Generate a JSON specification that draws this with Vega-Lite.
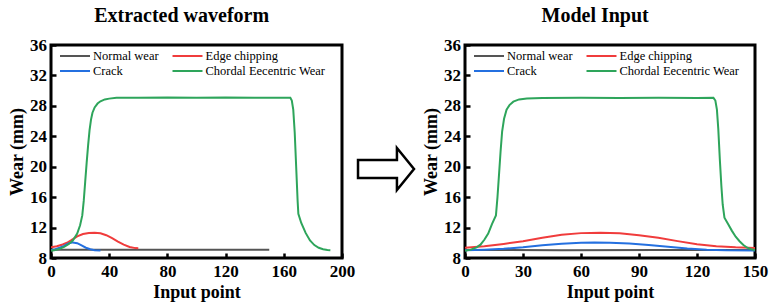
{
  "$schema": "https://vega.github.io/schema/vega-lite/v6.json",
  "padding": {"left": 7, "top": 4, "right": 0, "bottom": 0},
  "spacing": -8,
  "resolve": {"scale": {"color": "independent"}, "legend": {"color": "independent"}},
  "datasets": {
    "left": [
      {"x": 0, "y": 9.1, "s": "Normal wear"},
      {"x": 30, "y": 9.1, "s": "Normal wear"},
      {"x": 60, "y": 9.1, "s": "Normal wear"},
      {"x": 90, "y": 9.1, "s": "Normal wear"},
      {"x": 120, "y": 9.1, "s": "Normal wear"},
      {"x": 150, "y": 9.1, "s": "Normal wear"},
      {"x": 0, "y": 9.42, "s": "Edge chipping"},
      {"x": 4, "y": 9.55, "s": "Edge chipping"},
      {"x": 8, "y": 9.78, "s": "Edge chipping"},
      {"x": 11, "y": 10.0, "s": "Edge chipping"},
      {"x": 14, "y": 10.35, "s": "Edge chipping"},
      {"x": 18, "y": 10.85, "s": "Edge chipping"},
      {"x": 22, "y": 11.15, "s": "Edge chipping"},
      {"x": 26, "y": 11.3, "s": "Edge chipping"},
      {"x": 30, "y": 11.33, "s": "Edge chipping"},
      {"x": 34, "y": 11.25, "s": "Edge chipping"},
      {"x": 38, "y": 11.0, "s": "Edge chipping"},
      {"x": 42, "y": 10.6, "s": "Edge chipping"},
      {"x": 46, "y": 10.15, "s": "Edge chipping"},
      {"x": 50, "y": 9.75, "s": "Edge chipping"},
      {"x": 54, "y": 9.45, "s": "Edge chipping"},
      {"x": 58, "y": 9.3, "s": "Edge chipping"},
      {"x": 60, "y": 9.28, "s": "Edge chipping"},
      {"x": 0, "y": 9.02, "s": "Crack"},
      {"x": 3, "y": 9.15, "s": "Crack"},
      {"x": 6, "y": 9.35, "s": "Crack"},
      {"x": 9, "y": 9.6, "s": "Crack"},
      {"x": 12, "y": 9.9, "s": "Crack"},
      {"x": 15, "y": 10.05, "s": "Crack"},
      {"x": 18, "y": 9.95, "s": "Crack"},
      {"x": 21, "y": 9.65, "s": "Crack"},
      {"x": 24, "y": 9.35, "s": "Crack"},
      {"x": 27, "y": 9.15, "s": "Crack"},
      {"x": 30, "y": 9.03, "s": "Crack"},
      {"x": 34, "y": 8.97, "s": "Crack"},
      {"x": 0, "y": 8.95, "s": "Chordal Eecentric Wear"},
      {"x": 3, "y": 9.05, "s": "Chordal Eecentric Wear"},
      {"x": 6, "y": 9.2, "s": "Chordal Eecentric Wear"},
      {"x": 9, "y": 9.45, "s": "Chordal Eecentric Wear"},
      {"x": 12, "y": 9.8, "s": "Chordal Eecentric Wear"},
      {"x": 15, "y": 10.3, "s": "Chordal Eecentric Wear"},
      {"x": 18, "y": 11.2, "s": "Chordal Eecentric Wear"},
      {"x": 20, "y": 12.3, "s": "Chordal Eecentric Wear"},
      {"x": 21.5, "y": 13.6, "s": "Chordal Eecentric Wear"},
      {"x": 22.5, "y": 15.5, "s": "Chordal Eecentric Wear"},
      {"x": 23.5, "y": 18.0, "s": "Chordal Eecentric Wear"},
      {"x": 24.5, "y": 20.5, "s": "Chordal Eecentric Wear"},
      {"x": 25.5, "y": 22.8, "s": "Chordal Eecentric Wear"},
      {"x": 26.5, "y": 24.8, "s": "Chordal Eecentric Wear"},
      {"x": 27.5, "y": 26.2, "s": "Chordal Eecentric Wear"},
      {"x": 28.5, "y": 27.1, "s": "Chordal Eecentric Wear"},
      {"x": 30, "y": 27.8, "s": "Chordal Eecentric Wear"},
      {"x": 32, "y": 28.3, "s": "Chordal Eecentric Wear"},
      {"x": 34, "y": 28.6, "s": "Chordal Eecentric Wear"},
      {"x": 37, "y": 28.85, "s": "Chordal Eecentric Wear"},
      {"x": 40, "y": 28.95, "s": "Chordal Eecentric Wear"},
      {"x": 45, "y": 29.05, "s": "Chordal Eecentric Wear"},
      {"x": 60, "y": 29.05, "s": "Chordal Eecentric Wear"},
      {"x": 80, "y": 29.1, "s": "Chordal Eecentric Wear"},
      {"x": 100, "y": 29.05, "s": "Chordal Eecentric Wear"},
      {"x": 120, "y": 29.1, "s": "Chordal Eecentric Wear"},
      {"x": 140, "y": 29.05, "s": "Chordal Eecentric Wear"},
      {"x": 160, "y": 29.05, "s": "Chordal Eecentric Wear"},
      {"x": 164.5, "y": 29.05, "s": "Chordal Eecentric Wear"},
      {"x": 165.5, "y": 28.7, "s": "Chordal Eecentric Wear"},
      {"x": 166.5, "y": 27.5, "s": "Chordal Eecentric Wear"},
      {"x": 167.5, "y": 24.5, "s": "Chordal Eecentric Wear"},
      {"x": 168.5, "y": 20.0, "s": "Chordal Eecentric Wear"},
      {"x": 169.5, "y": 15.5, "s": "Chordal Eecentric Wear"},
      {"x": 170, "y": 13.8, "s": "Chordal Eecentric Wear"},
      {"x": 172, "y": 12.6, "s": "Chordal Eecentric Wear"},
      {"x": 175, "y": 11.3, "s": "Chordal Eecentric Wear"},
      {"x": 178, "y": 10.3, "s": "Chordal Eecentric Wear"},
      {"x": 181, "y": 9.7, "s": "Chordal Eecentric Wear"},
      {"x": 184, "y": 9.35, "s": "Chordal Eecentric Wear"},
      {"x": 187, "y": 9.15, "s": "Chordal Eecentric Wear"},
      {"x": 190, "y": 9.05, "s": "Chordal Eecentric Wear"},
      {"x": 192, "y": 9.02, "s": "Chordal Eecentric Wear"}
    ],
    "right": [
      {"x": 0, "y": 9.05, "s": "Normal wear"},
      {"x": 50, "y": 9.03, "s": "Normal wear"},
      {"x": 100, "y": 9.05, "s": "Normal wear"},
      {"x": 150, "y": 9.04, "s": "Normal wear"},
      {"x": 0, "y": 9.35, "s": "Edge chipping"},
      {"x": 10, "y": 9.55, "s": "Edge chipping"},
      {"x": 20, "y": 9.85, "s": "Edge chipping"},
      {"x": 30, "y": 10.2, "s": "Edge chipping"},
      {"x": 40, "y": 10.65, "s": "Edge chipping"},
      {"x": 50, "y": 11.05, "s": "Edge chipping"},
      {"x": 60, "y": 11.27, "s": "Edge chipping"},
      {"x": 70, "y": 11.33, "s": "Edge chipping"},
      {"x": 80, "y": 11.25, "s": "Edge chipping"},
      {"x": 90, "y": 11.0, "s": "Edge chipping"},
      {"x": 100, "y": 10.65, "s": "Edge chipping"},
      {"x": 110, "y": 10.22, "s": "Edge chipping"},
      {"x": 120, "y": 9.82, "s": "Edge chipping"},
      {"x": 130, "y": 9.55, "s": "Edge chipping"},
      {"x": 140, "y": 9.4, "s": "Edge chipping"},
      {"x": 150, "y": 9.33, "s": "Edge chipping"},
      {"x": 0, "y": 9.02, "s": "Crack"},
      {"x": 10, "y": 9.1, "s": "Crack"},
      {"x": 20, "y": 9.22, "s": "Crack"},
      {"x": 30, "y": 9.42, "s": "Crack"},
      {"x": 40, "y": 9.68, "s": "Crack"},
      {"x": 50, "y": 9.88, "s": "Crack"},
      {"x": 60, "y": 10.0, "s": "Crack"},
      {"x": 67, "y": 10.05, "s": "Crack"},
      {"x": 75, "y": 10.02, "s": "Crack"},
      {"x": 85, "y": 9.92, "s": "Crack"},
      {"x": 95, "y": 9.72, "s": "Crack"},
      {"x": 105, "y": 9.48, "s": "Crack"},
      {"x": 115, "y": 9.25, "s": "Crack"},
      {"x": 125, "y": 9.1, "s": "Crack"},
      {"x": 135, "y": 9.02, "s": "Crack"},
      {"x": 150, "y": 9.0, "s": "Crack"},
      {"x": 0, "y": 8.95, "s": "Chordal Eecentric Wear"},
      {"x": 3, "y": 9.1, "s": "Chordal Eecentric Wear"},
      {"x": 6, "y": 9.4, "s": "Chordal Eecentric Wear"},
      {"x": 8, "y": 9.75, "s": "Chordal Eecentric Wear"},
      {"x": 10, "y": 10.4, "s": "Chordal Eecentric Wear"},
      {"x": 12, "y": 11.2, "s": "Chordal Eecentric Wear"},
      {"x": 14, "y": 12.5, "s": "Chordal Eecentric Wear"},
      {"x": 16, "y": 13.6, "s": "Chordal Eecentric Wear"},
      {"x": 16.8, "y": 16.0, "s": "Chordal Eecentric Wear"},
      {"x": 17.6, "y": 19.0, "s": "Chordal Eecentric Wear"},
      {"x": 18.4, "y": 22.0, "s": "Chordal Eecentric Wear"},
      {"x": 19.2, "y": 24.6, "s": "Chordal Eecentric Wear"},
      {"x": 20.2, "y": 26.3, "s": "Chordal Eecentric Wear"},
      {"x": 21.5, "y": 27.5, "s": "Chordal Eecentric Wear"},
      {"x": 23, "y": 28.1, "s": "Chordal Eecentric Wear"},
      {"x": 25, "y": 28.55, "s": "Chordal Eecentric Wear"},
      {"x": 28, "y": 28.85, "s": "Chordal Eecentric Wear"},
      {"x": 32, "y": 28.98, "s": "Chordal Eecentric Wear"},
      {"x": 40, "y": 29.02, "s": "Chordal Eecentric Wear"},
      {"x": 60, "y": 29.05, "s": "Chordal Eecentric Wear"},
      {"x": 80, "y": 29.02, "s": "Chordal Eecentric Wear"},
      {"x": 100, "y": 29.05, "s": "Chordal Eecentric Wear"},
      {"x": 120, "y": 29.02, "s": "Chordal Eecentric Wear"},
      {"x": 128.5, "y": 29.05, "s": "Chordal Eecentric Wear"},
      {"x": 129.5, "y": 28.7, "s": "Chordal Eecentric Wear"},
      {"x": 130.3, "y": 27.5, "s": "Chordal Eecentric Wear"},
      {"x": 131, "y": 25.0, "s": "Chordal Eecentric Wear"},
      {"x": 131.8, "y": 21.0, "s": "Chordal Eecentric Wear"},
      {"x": 132.6, "y": 17.5, "s": "Chordal Eecentric Wear"},
      {"x": 133.3, "y": 15.0, "s": "Chordal Eecentric Wear"},
      {"x": 134.2, "y": 13.3, "s": "Chordal Eecentric Wear"},
      {"x": 136, "y": 12.5, "s": "Chordal Eecentric Wear"},
      {"x": 138, "y": 11.6, "s": "Chordal Eecentric Wear"},
      {"x": 140, "y": 10.8, "s": "Chordal Eecentric Wear"},
      {"x": 142, "y": 10.2, "s": "Chordal Eecentric Wear"},
      {"x": 144, "y": 9.7, "s": "Chordal Eecentric Wear"},
      {"x": 146, "y": 9.35, "s": "Chordal Eecentric Wear"},
      {"x": 148, "y": 9.15, "s": "Chordal Eecentric Wear"},
      {"x": 150, "y": 9.05, "s": "Chordal Eecentric Wear"}
    ],
    "arrow": [{"ax": 0.403, "ay": 0.418}]
  },
  "hconcat": [
    {
      "title": {"text": "Extracted waveform", "offset": 10},
      "width": 291,
      "height": 213,
      "data": {"name": "left"},
      "mark": {"type": "line", "strokeWidth": 2, "clip": true},
      "encoding": {
        "x": {"field": "x", "type": "quantitative", "title": "Input point",
              "scale": {"domain": [0, 200], "nice": false, "zero": false},
              "axis": {"values": [0, 40, 80, 120, 160, 200], "labelFlush": false, "labelFont": "Liberation Serif", "labelFontSize": 17, "labelFontWeight": "bold", "labelPadding": 10, "titlePadding": 4}},
        "y": {"field": "y", "type": "quantitative", "title": "Wear (mm)",
              "scale": {"domain": [8, 36], "nice": false, "zero": false},
              "axis": {"values": [8, 12, 16, 20, 24, 28, 32, 36], "labelFlush": false, "labelFont": "Liberation Serif", "labelFontSize": 17, "labelFontWeight": "bold", "labelPadding": 9.5, "titlePadding": 3}},
        "color": {"field": "s", "type": "nominal",
                  "scale": {"domain": ["Normal wear", "Edge chipping", "Crack", "Chordal Eecentric Wear"],
                            "range": ["#555555", "#f03c3c", "#2470e0", "#2ea55b"]},
                  "legend": {"orient": "none", "legendX": 15.5, "legendY": 2.5, "direction": "horizontal", "columns": 2,
                             "labelFont": "Liberation Serif", "labelFontSize": 12.5, "labelFontWeight": "normal"}}
      }
    },
    {
      "width": 72,
      "height": 213,
      "view": {"stroke": null},
      "data": {"name": "arrow"},
      "mark": {"type": "point", "shape": "M -1 -0.32 L 0.39 -0.32 L 0.39 -0.75 L 1 0 L 0.39 0.75 L 0.39 0.32 L -1 0.32 Z",
               "size": 3136, "filled": true, "fill": "white", "stroke": "black", "strokeWidth": 2.5, "opacity": 1},
      "encoding": {
        "x": {"field": "ax", "type": "quantitative", "scale": {"domain": [0, 1], "nice": false, "zero": false}, "axis": null},
        "y": {"field": "ay", "type": "quantitative", "scale": {"domain": [0, 1], "nice": false, "zero": false}, "axis": null}
      }
    },
    {
      "title": {"text": "Model Input", "offset": 10},
      "width": 290,
      "height": 213,
      "data": {"name": "right"},
      "mark": {"type": "line", "strokeWidth": 2, "clip": true},
      "encoding": {
        "x": {"field": "x", "type": "quantitative", "title": "Input point",
              "scale": {"domain": [0, 150], "nice": false, "zero": false},
              "axis": {"values": [0, 30, 60, 90, 120, 150], "labelFlush": false, "labelFont": "Liberation Serif", "labelFontSize": 17, "labelFontWeight": "bold", "labelPadding": 10, "titlePadding": 4}},
        "y": {"field": "y", "type": "quantitative", "title": "Wear (mm)",
              "scale": {"domain": [8, 36], "nice": false, "zero": false},
              "axis": {"values": [8, 12, 16, 20, 24, 28, 32, 36], "labelFlush": false, "labelFont": "Liberation Serif", "labelFontSize": 17, "labelFontWeight": "bold", "labelPadding": 9.5, "titlePadding": 3}},
        "color": {"field": "s", "type": "nominal",
                  "scale": {"domain": ["Normal wear", "Edge chipping", "Crack", "Chordal Eecentric Wear"],
                            "range": ["#555555", "#f03c3c", "#2470e0", "#2ea55b"]},
                  "legend": {"orient": "none", "legendX": 15.5, "legendY": 2.5, "direction": "horizontal", "columns": 2,
                             "labelFont": "Liberation Serif", "labelFontSize": 12.5, "labelFontWeight": "normal"}}
      }
    }
  ],
  "config": {
    "font": "Liberation Serif",
    "view": {"stroke": "black", "strokeWidth": 3},
    "axis": {
      "domain": false, "grid": false, "ticks": true, "labelFlush": false,
      "tickSize": -5, "tickWidth": 2.5, "tickColor": "black",
      "labelFont": "Liberation Serif", "labelFontSize": 17, "labelFontWeight": "bold", "labelColor": "black",
      "titleFont": "Liberation Serif", "titleFontSize": 18, "titleFontWeight": "bold", "titleColor": "black"
    },
    "legend": {
      "columns": 2, "symbolType": "M -2 0 L 2 0", "symbolSize": 225, "symbolStrokeWidth": 2,
      "labelFont": "Liberation Serif", "labelFontSize": 12.5, "labelFontWeight": "normal", "labelColor": "black",
      "columnPadding": 8.5, "rowPadding": 0, "labelOffset": 9.5, "title": null, "padding": 0
    },
    "title": {"font": "Liberation Serif", "fontSize": 20, "fontWeight": "bold", "color": "black", "frame": "bounds", "anchor": "middle"}
  }
}
